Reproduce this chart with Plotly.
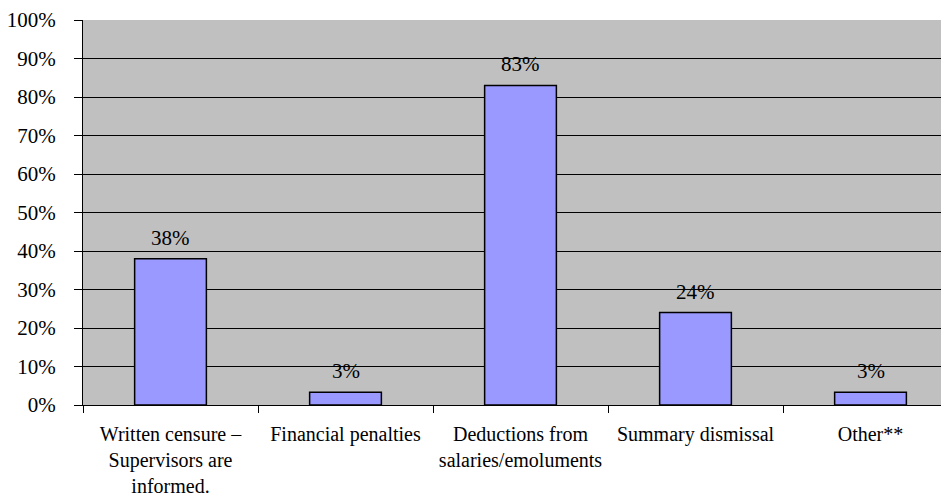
import plotly.graph_objects as go

categories = ["Written censure –<br>Supervisors are<br>informed.", "Financial penalties",
              "Deductions from<br>salaries/emoluments", "Summary dismissal", "Other**"]
values = [38, 3.3, 83, 24, 3.3]
value_labels = ["38%", "3%", "83%", "24%", "3%"]
y_ticks = list(range(0, 101, 10))
y_tick_labels = [f"{t}%" for t in y_ticks]

FONT = "Liberation Serif, Times New Roman, Liberation Sans, serif"
FS = 21

fig = go.Figure()
fig.add_trace(go.Bar(
    x=categories, y=values, width=0.41,
    marker=dict(color="#9999FF", line=dict(color="black", width=1.5)),
    hoverinfo="skip",
))
for c, v, lab in zip(categories, values, value_labels):
    fig.add_annotation(x=c, y=v, text=lab, showarrow=False, yanchor="bottom", yshift=7,
                       font=dict(family=FONT, size=FS, color="black"))

# the page body has an 8px default margin; compensate
fig.update_layout(
    width=950, height=497,
    margin=dict(l=75, r=0, t=12, b=100),
    paper_bgcolor="white", plot_bgcolor="#C0C0C0",
    showlegend=False,
    font=dict(family=FONT, size=FS, color="black"),
)
fig.update_xaxes(
    range=[-0.5, 4.5], showline=True, linecolor="black", linewidth=1,
    ticks="outside", tickson="boundaries", ticklen=7, tickcolor="black",
    showgrid=False, automargin=False, ticklabelstandoff=11, tickangle=0,
    tickfont=dict(family=FONT, size=20, color="black"),
)
fig.update_yaxes(
    range=[0, 100], tickvals=y_ticks, ticktext=y_tick_labels,
    showline=True, linecolor="black", linewidth=1,
    ticks="outside", ticklen=8, tickcolor="black",
    showgrid=True, gridcolor="black", gridwidth=1, zeroline=False,
    automargin=False, ticklabelstandoff=14,
    tickfont=dict(family=FONT, size=FS, color="black"),
)
fig.write_html("out.html")
